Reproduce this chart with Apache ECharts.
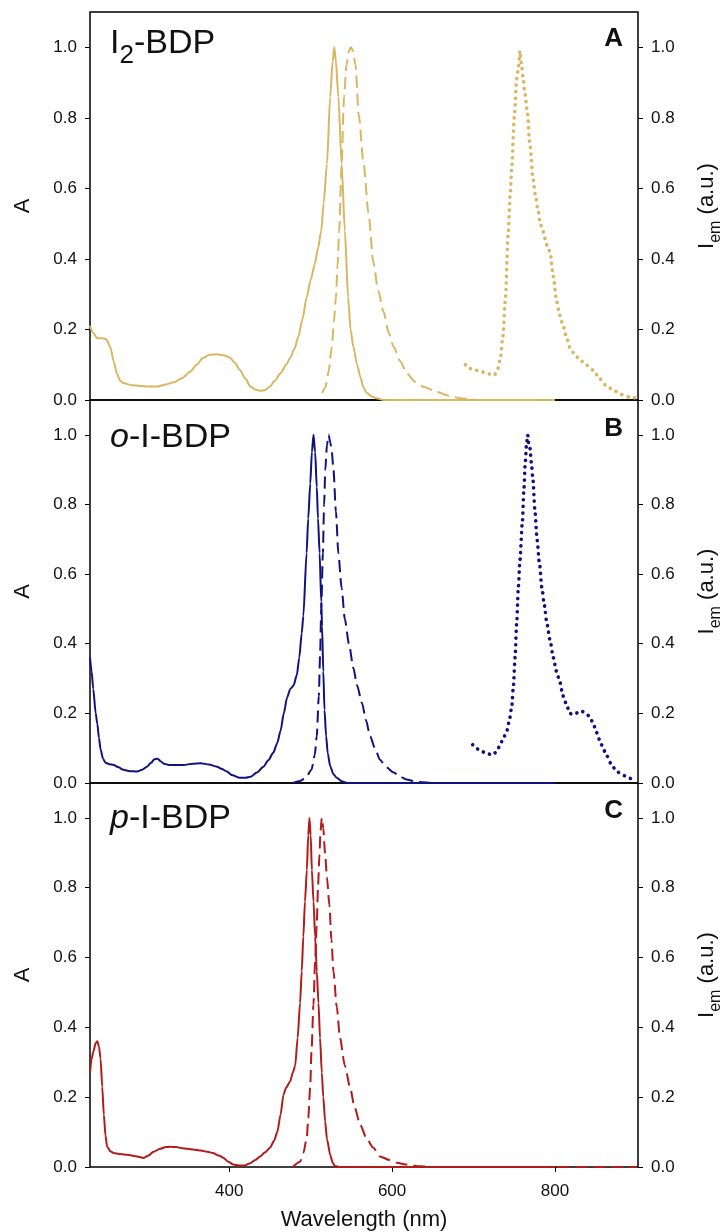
<!doctype html>
<html>
<head>
<meta charset="UTF-8">
<title>BDP spectra</title>
<script src="https://cdn.jsdelivr.net/npm/echarts@6/dist/echarts.min.js"></script>
<style>
    html, body { margin: 0; padding: 0; background: #fff; }
    #main { width: 720px; height: 1232px; }
</style>
</head>
<body>
<div id="main"></div>
<script>
    // wavelength (nm), normalised value
    var i2Abs = [[229,0.21],[233,0.19],[238,0.175],[244,0.175],[249,0.172],[254,0.15],[258,0.11],[262,0.075],[266,0.055],[270,0.048],
        [280,0.042],[291,0.04],[302,0.038],[312,0.038],[322,0.044],[332,0.05],[342,0.062],[352,0.08],[360,0.1],[368,0.12],[376,0.128],
        [385,0.13],[393,0.127],[401,0.12],[407,0.105],[413,0.085],[420,0.06],[426,0.038],[432,0.03],[438,0.026],[444,0.028],[450,0.038],
        [456,0.055],[463,0.076],[470,0.1],[475,0.12],[480,0.145],[485,0.18],[490,0.23],[495,0.29],[500,0.34],[505,0.385],[509,0.43],
        [513,0.48],[516,0.56],[520,0.67],[524,0.86],[527,0.96],[529,1.0],[531,0.96],[534,0.86],[538,0.67],[542,0.48],[546,0.29],
        [549,0.2],[552.5,0.15],[557,0.1],[561,0.065],[565,0.035],[569,0.02],[575,0.01],[581,0.005],[590,0],[800,0]];
    var i2Fl = [[514,0.02],[518,0.035],[522,0.08],[526,0.15],[528.5,0.22],[531,0.29],[533,0.38],[535,0.48],[538,0.67],[541,0.86],
        [544,0.95],[547,0.99],[549.5,1.0],[552,0.99],[555,0.95],[559,0.81],[565,0.67],[571,0.53],[577,0.39],[583,0.31],[589.5,0.25],
        [596,0.19],[602,0.15],[610,0.11],[618,0.076],[628,0.052],[639,0.037],[655,0.023],[670,0.012],[683,0.005],[700,0.002]];
    var i2Ph = [[690,0.1],[694,0.09],[698,0.088],[702,0.085],[706,0.083],[710,0.08],[714,0.078],[718,0.075],[722,0.07],[726,0.072],
        [730,0.09],[733,0.12],[736,0.18],[739,0.28],[742.5,0.47],[745,0.58],[747,0.66],[750,0.8],[753,0.91],[755,0.94],[757,0.99],
        [759,0.95],[761,0.91],[763,0.87],[766,0.82],[769,0.73],[773,0.63],[776,0.58],[779,0.54],[782,0.5],[785,0.48],[790,0.44],
        [794,0.42],[798,0.35],[802,0.28],[806,0.24],[810,0.21],[814,0.18],[818,0.15],[824,0.13],[831,0.113],[838,0.1],[847,0.085],
        [855,0.06],[864,0.038],[874,0.025],[884,0.014],[892,0.008],[901,0.005]];

    var oAbs = [[229,0.36],[231,0.32],[233,0.27],[236,0.2],[238,0.17],[240,0.13],[242,0.096],[245,0.07],[248,0.058],[253,0.054],
        [258,0.052],[264,0.045],[270,0.038],[278,0.034],[287,0.033],[293,0.038],[299,0.047],[304,0.058],[308,0.068],[312,0.07],
        [316,0.062],[320,0.055],[326,0.052],[335,0.052],[344,0.052],[355,0.055],[365,0.057],[375,0.053],[385,0.047],[391,0.04],
        [397,0.033],[404,0.022],[413,0.015],[420,0.015],[426,0.018],[434,0.03],[442,0.047],[448,0.065],[454,0.087],[459,0.115],
        [463,0.15],[467,0.2],[471,0.245],[475,0.27],[479,0.28],[483,0.31],[486,0.36],[489,0.43],[491,0.48],[495,0.66],[497,0.76],
        [499.5,0.86],[501.5,0.95],[503.5,1.0],[505.5,0.95],[507.5,0.85],[509,0.76],[511,0.66],[513,0.52],[514,0.45],[515.5,0.32],
        [517,0.21],[519,0.134],[521,0.085],[524,0.048],[528,0.025],[532,0.015],[538,0.005],[545,0],[800,0]];
    var oFl = [[478,0],[487,0.006],[494,0.015],[501,0.038],[505,0.08],[507.5,0.134],[510,0.25],[511.6,0.37],[513,0.5],[515,0.66],
        [516.5,0.8],[518,0.9],[520,0.97],[522,1.0],[524,0.98],[526,0.95],[528,0.9],[531,0.78],[534,0.66],[538,0.56],[542,0.47],
        [547,0.4],[552.5,0.33],[557,0.28],[563,0.23],[568,0.18],[573,0.134],[579,0.1],[585,0.067],[593,0.045],[602,0.03],[610,0.018],
        [618,0.01],[626,0.006],[634,0.003],[650,0],[700,0]];
    var oPh = [[699,0.11],[703,0.1],[707,0.095],[711,0.09],[715,0.085],[719,0.083],[724,0.08],[728,0.09],[732,0.105],[736,0.125],
        [741,0.15],[744,0.18],[747,0.22],[749,0.28],[751,0.36],[753,0.46],[755,0.56],[757,0.64],[760,0.75],[762,0.85],[763.5,0.92],
        [765,0.97],[766.5,1.0],[768,0.97],[769.5,0.96],[771,0.92],[773,0.87],[775.5,0.78],[778,0.7],[781,0.63],[784,0.56],[787,0.51],
        [790,0.46],[794,0.41],[798,0.36],[802,0.32],[806,0.29],[810,0.25],[815,0.22],[818,0.2],[822,0.197],[826,0.2],[829,0.206],
        [833,0.206],[838,0.2],[843,0.19],[847,0.17],[851,0.145],[857,0.11],[864,0.077],[870,0.05],[876,0.033],[882,0.025],
        [888,0.018],[893,0.013],[898,0.01]];

    var pAbs = [[229,0.27],[231,0.31],[233,0.33],[236,0.355],[238,0.36],[240,0.345],[242,0.31],[244,0.23],[246,0.15],[248,0.09],
        [250,0.058],[254,0.045],[258,0.04],[266,0.037],[275,0.035],[285,0.031],[295,0.026],[301,0.033],[307,0.044],[315,0.052],
        [322,0.057],[328,0.058],[335,0.057],[342,0.054],[349,0.052],[356,0.05],[365,0.047],[373,0.044],[380,0.04],[387,0.033],
        [393,0.026],[399,0.015],[405,0.007],[412,0.004],[418,0.004],[425,0.01],[432,0.02],[438,0.03],[444,0.042],[450,0.055],
        [455,0.075],[459,0.1],[463,0.15],[466.6,0.207],[470,0.228],[474.8,0.245],[478,0.27],[481,0.29],[484,0.37],[487,0.47],
        [489,0.56],[491,0.66],[493,0.76],[495.3,0.85],[497,0.95],[498.5,1.0],[500,0.95],[501.5,0.85],[503.5,0.76],[505.5,0.66],
        [507.5,0.56],[509.6,0.47],[511.5,0.37],[513.7,0.27],[515.5,0.2],[517.8,0.13],[520,0.08],[524,0.035],[527,0.012],[530,0.003],
        [535,0],[800,0]];
    var pFl = [[478,0],[487,0.015],[491,0.04],[495.3,0.084],[497,0.14],[499.4,0.227],[501,0.33],[503.4,0.465],[505.5,0.59],
        [507.5,0.7],[509,0.8],[510.8,0.895],[512,0.96],[513.7,1.0],[515.5,0.97],[517.8,0.895],[520,0.83],[523,0.75],[525.5,0.65],
        [528,0.56],[532,0.46],[536,0.37],[542,0.29],[548.5,0.227],[554,0.17],[561,0.12],[569,0.08],[577,0.055],[585,0.03],
        [597,0.02],[606,0.012],[618,0.007],[634,0.002],[650,0],[900,0]];

    var xTicks = [400, 600, 800];
    var yTicks = [0, 0.2, 0.4, 0.6, 0.8, 1.0];
    var colors = ['#D9B660', '#12127F', '#B31B1B'];

    var FONT = '"Liberation Sans", Arial, sans-serif';
    var grids = [
        {top: 12, height: 388},
        {top: 400, height: 383},
        {top: 783, height: 384}
    ];

    var option = {
        animation: false,
        grid: [],
        xAxis: [],
        yAxis: [],
        series: [],
        graphic: []
    };

    grids.forEach(function (g, i) {
        var last = i === grids.length - 1;
        option.grid.push({
            left: 90, right: 82, top: g.top, height: g.height,
            containLabel: false, outerBoundsMode: 'none',
            show: true, borderColor: '#000', borderWidth: 1.5
        });
        option.xAxis.push({
            type: 'value', gridIndex: i, min: 229, max: 902,
            splitLine: {show: false},
            axisLine: {show: false},
            axisTick: {show: last, customValues: xTicks, length: 5, lineStyle: {color: '#000', width: 1}},
            axisLabel: {show: last, customValues: xTicks, margin: 16, color: '#111', fontSize: 17, fontFamily: FONT},
            name: last ? 'Wavelength (nm)' : '',
            nameLocation: 'middle', nameGap: 42,
            nameTextStyle: {fontSize: 22, color: '#111', fontFamily: FONT}
        });
        ['left', 'right'].forEach(function (pos) {
            option.yAxis.push({
                type: 'value', gridIndex: i, position: pos, min: 0, max: 1.1,
                splitLine: {show: false},
                axisLine: {show: false},
                axisTick: {show: true, customValues: yTicks, length: 5, lineStyle: {color: '#000', width: 1}},
                axisLabel: {customValues: yTicks, margin: 13, color: '#111', fontSize: 17, fontFamily: FONT,
                    formatter: function (v) { return v.toFixed(1); }},
                name: pos === 'left' ? 'A' : '{b|I}{s|em}{b| (a.u.)}',
                nameLocation: 'middle', nameRotate: 90,
                nameGap: pos === 'left' ? 56 : 58,
                nameTextStyle: {
                    fontSize: 22, color: '#111', fontFamily: FONT,
                    rich: {
                        b: {fontSize: 22, lineHeight: 28, verticalAlign: 'top', color: '#111', fontFamily: FONT},
                        s: {fontSize: 16, lineHeight: 28, verticalAlign: 'bottom', color: '#111', fontFamily: FONT}
                    }
                }
            });
        });
    });

    function line(data, panel, right, style) {
        var ls = {color: colors[panel], width: 2};
        if (style === 'dash') { ls.type = [12, 6]; }
        if (style === 'dot') { ls.type = [0.1, 6.5]; ls.cap = 'round'; ls.width = 3.6; }
        return {
            type: 'line', data: data, xAxisIndex: panel, yAxisIndex: panel * 2 + (right ? 1 : 0),
            showSymbol: false, symbol: 'none', smooth: 0.25, smoothMonotone: 'x',
            lineStyle: ls
        };
    }

    option.series.push(
        line(i2Abs, 0, false, 'solid'), line(i2Fl, 0, true, 'dash'), line(i2Ph, 0, true, 'dot'),
        line(oAbs, 1, false, 'solid'), line(oFl, 1, true, 'dash'), line(oPh, 1, true, 'dot'),
        line(pAbs, 2, false, 'solid'), line(pFl, 2, true, 'dash')
    );

    var labelRich = {
        m: {fontSize: 34, lineHeight: 42, verticalAlign: 'top', fill: '#111', fontFamily: FONT},
        i: {fontSize: 34, lineHeight: 42, verticalAlign: 'top', fill: '#111', fontFamily: FONT, fontStyle: 'italic'},
        s: {fontSize: 26, lineHeight: 42, verticalAlign: 'bottom', fill: '#111', fontFamily: FONT}
    };
    var names = ['{m|I}{s|2}{m|-BDP}', '{i|o}{m|-I-BDP}', '{i|p}{m|-I-BDP}'];
    var letters = ['A', 'B', 'C'];
    var nameTop = [27, 421, 802];
    var letterTop = [26, 416, 798];

    names.forEach(function (n, i) {
        option.graphic.push({
            type: 'text', left: 110, top: nameTop[i], z: 100,
            style: {text: n, rich: labelRich, fontSize: 34, fill: '#111', font: '34px ' + FONT}
        });
        option.graphic.push({
            type: 'text', right: 97, top: letterTop[i], z: 100,
            style: {text: letters[i], fill: '#111', font: 'bold 26px ' + FONT}
        });
    });

    var chart = echarts.init(document.getElementById('main'));
    chart.setOption(option);
</script>
</body>
</html>
